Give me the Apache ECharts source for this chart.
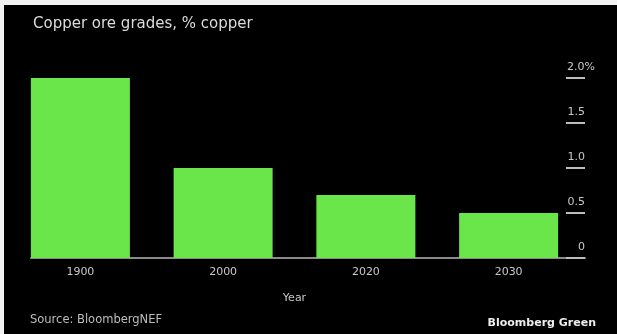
<!DOCTYPE html>
<html>
<head>
<meta charset="utf-8">
<script src="https://cdn.jsdelivr.net/npm/echarts@6/dist/echarts.min.js"></script>
<style>
  html, body { margin: 0; padding: 0; background: #f2f2f2; overflow: hidden; }
  #chart { width: 617px; height: 334px; }
</style>
</head>
<body>
<div id="chart"></div>
<script>
var years = ['1900', '2000', '2020', '2030'];
var grades = [2.0, 1.0, 0.7, 0.5];
var tickLabels = ['0', '0.5', '1.0', '1.5', '2.0%'];

var chart = echarts.init(document.getElementById('chart'), null, { width: 617, height: 334 });

var option = {
  backgroundColor: '#000',
  textStyle: { fontFamily: '"DejaVu Sans", sans-serif' },
  graphic: [
    { type: 'rect', shape: { x: 0, y: 0, width: 4, height: 334 }, style: { fill: '#f2f2f2' }, z: 100 },
    { type: 'rect', shape: { x: 0, y: 0, width: 617, height: 5 }, style: { fill: '#f2f2f2' }, z: 100 },
    {//标题
      type: 'text', left: 33, top: 17,
      style: { text: 'Copper ore grades, % copper', fill: '#dcdcdc', fontSize: 15, fontFamily: '"DejaVu Sans", sans-serif' }
    },
    {
      type: 'text', left: 30, top: 314,
      style: { text: 'Source: BloombergNEF', fill: '#bdbdbd', fontSize: 11.5, fontFamily: '"DejaVu Sans", sans-serif' }
    },
    {
      type: 'text', right: 21, top: 318,
      style: { text: 'Bloomberg Green', fill: '#eeeeee', fontSize: 11, fontWeight: 'bold', fontFamily: '"DejaVu Sans", sans-serif' }
    }
  ],
  grid: [
    { left: 9, right: 37, top: 78, bottom: 76 },
    { left: 31, right: 32, top: 78, bottom: 76 }
  ],
  xAxis: [{
    type: 'category',
    gridIndex: 0,
    data: years,
    axisLine: { show: false },
    axisTick: { show: false },
    axisLabel: { color: '#c8c8c8', fontSize: 11, margin: 9 },
    name: 'Year',
    nameLocation: 'middle',
    nameGap: 35,
    nameTextStyle: { color: '#c8c8c8', fontSize: 11 }
  }, {
    type: 'value',
    gridIndex: 1,
    min: 0, max: 1,
    axisLine: { show: true, onZero: false, lineStyle: { color: '#8a8a8a', width: 2 } },
    axisTick: { show: false },
    axisLabel: { show: false },
    splitLine: { show: false }
  }],
  yAxis: [{
    type: 'value',
    gridIndex: 0,
    min: 0, max: 2, interval: 0.5,
    show: false
  }, {
    type: 'value',
    gridIndex: 1,
    position: 'right',
    min: 0, max: 2, interval: 0.5,
    axisLine: { show: false, onZero: false },
    axisTick: { show: true, inside: true, length: 19, lineStyle: { color: '#bdbdbd', width: 2 } },
    splitLine: { show: false },
    axisLabel: {
      align: 'right',
      margin: 10,
      verticalAlign: 'bottom',
      padding: [0, 0, 5, 0],
      color: '#c8c8c8',
      fontSize: 11,
      formatter: function (v) {
        var t = tickLabels[Math.round(v / 0.5)];
        return t.indexOf('%') >= 0 ? t : '{v|' + t + '}{s|}';
      },
      rich: {
        v: { color: '#c8c8c8', fontSize: 11 },
        s: { width: 10 }
      }
    }
  }],
  series: [{
    type: 'bar',
    xAxisIndex: 0,
    yAxisIndex: 0,
    data: grades,
    barWidth: 99,
    itemStyle: { color: '#6be64a' }
  }]
};

chart.setOption(option);
</script>
</body>
</html>
